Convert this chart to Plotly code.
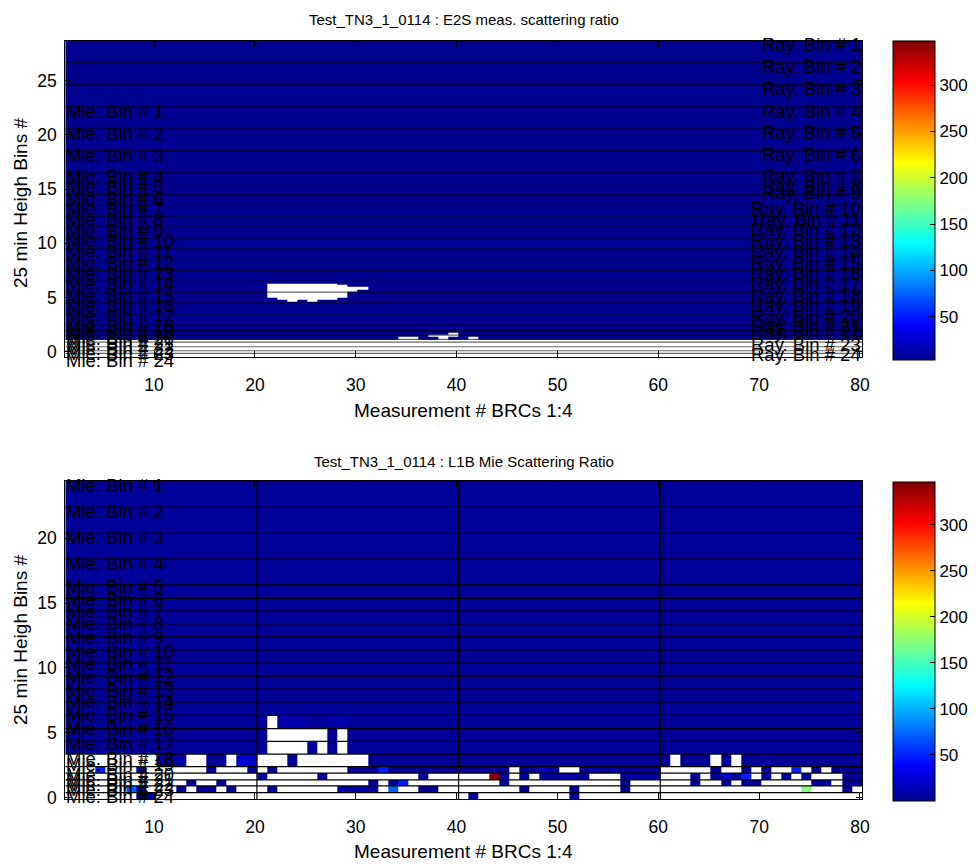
import plotly.graph_objects as go

# ---------------------------------------------------------------- data
title_top = "Test_TN3_1_0114 : E2S meas. scattering ratio"
title_bot = "Test_TN3_1_0114 : L1B Mie Scattering Ratio"
x_title = "Measurement # BRCs 1:4"
y_title = "25 min Heigh Bins #"

measurements = list(range(1, 80))      # 79 measurement columns
cell_offset = 0.2                       # pcolor cell edges sit at m + 0.2

x_ticks = [10, 20, 30, 40, 50, 60, 70, 80]
top_y_ticks = [0, 5, 10, 15, 20, 25]
bot_y_ticks = [0, 5, 10, 15, 20]
cbar_ticks = [50, 100, 150, 200, 250, 300]

top_crange = [3.3, 347.8]
bot_crange = [0.3, 347.0]

# code -> scattering ratio value ('w' = missing / NaN)
code_values = {'.': 3.5, 'b': 9.0, 'B': 22.0, 'c': 50.0, 'L': 72.0,
               'g': 172.0, 'r': 345.0, 'w': None}

BG = "." * 79

# E2S panel: data rows (bottom -> top) and their height edges
top_data_edges = [-0.46, 1.14, 1.40, 1.60, 1.75, 4.62, 4.80, 4.96, 5.50,
                  5.72, 6.03, 6.15, 6.31, 28.7]
top_rows = [
    "wwwwwwwwww wwwwwwwwww wwwwwwwwww wwwwwwwwww wwwwwwwwww wwwwwwwwww wwwwwwwwww wwwwwwwww",
    ".......... .......... .......... ...ww..w.. w......... .......... .......... .........",
    ".......... .......... .......... ......www. .......... .......... .......... .........",
    ".......... .......... .......... ........w. .......... .......... .......... .........",
    BG,
    ".......... .......... ..w.w..... .......... .......... .......... .......... .........",
    ".......... .......... .wwwwww... .......... .......... .......... .......... .........",
    ".......... .......... wwwwwwww.. .......... .......... .......... .......... .........",
    ".......... .......... wwwwwwwww. .......... .......... .......... .......... .........",
    ".......... .......... wwwwwwwwww .......... .......... .......... .......... .........",
    ".......... .......... wwwwwwww.. .......... .......... .......... .......... .........",
    ".......... .......... wwwwwww... .......... .......... .......... .......... .........",
    BG,
]
# bin boundary lines drawn in the E2S panel
top_bin_edges = [26.7, 24.65, 22.6, 20.57, 18.55, 16.5, 15.5, 14.5, 13.5, 12.5,
                 11.5, 10.5, 9.5, 8.5, 7.5, 6.5, 5.5, 4.5, 3.5, 2.46, 1.97,
                 1.54, 1.14, 0.89, 0.46, 0.09, -0.15]
ray_label_y = [28.36, 26.29, 24.3, 22.2, 20.2, 18.2, 16.24, 15.38, 14.7, 13.2,
               12.2, 11.3, 10.24, 9.23, 8.25, 7.23, 6.25, 5.23, 4.22, 3.23,
               2.46, 1.85, 0.62, -0.3]
mie_label_y_top = [22.14, 20.15, 18.15, 16.14, 15.22, 14.15, 13.23, 12.21,
                   11.23, 10.24, 9.23, 8.25, 7.23, 6.25, 5.23, 4.24, 3.32,
                   2.46, 1.85, 1.23, 0.77, 0.31, -0.15, -0.77]

# L1B panel: Mie bins (top -> bottom) and their height edges
bot_bin_edges = [24.41, 22.38, 20.38, 18.40, 16.4, 15.37, 14.39, 13.39, 12.39,
                 11.39, 10.38, 9.38, 8.38, 7.38, 6.35, 5.32, 4.35, 3.36, 2.40,
                 1.89, 1.37, 0.91, 0.39, -0.12]
bot_rows = [BG] * 14 + [
    ".......... .......... wbbb..bb.. .......... .......... .......... .......... .........",
    ".......... .......... wwwwww.w.. .......... .......... .......... .......... .........",
    ".......... .......... wwww.w.w.. .......... .......... .......... .......... .........",
    "wwwwwwwwwb bbww..wBBw ww.wwwwwww .......... .......... .......... w...w.w..b .........",
    "wwwcwww.ww wwww.www.w .wwwwwww.. .c........ ....w..B.w w.b.b....w wwww.ww.w. wwcw.w...",
    "wwwwwwwwww wwwwwwwww. wwwww.wwww wwwww.wwww wwr.w.w..b b.www....w ww.w.B.cw. w.w.www..",
    "wwwwwwwwww ww.ww.wwww wwwwwwwwww .w.cwwwwww www.wwwwww wwwww.wwww ww.ww.w..w wwww..w..",
    "wwwwwwL.ww w.w..w.www .wwwwwwbbb bwLww..www wwwww.wwww .wwww.wwww wwwwwwwwww wwwgwww.w",
    "wwwwwww..w wwwwwwwwww wwwwwwwwww wwwwwwwwww .wwwwwwwww .wwwwwwwww wwwwwwwwww wwwwwwwww",
]
mie_label_y_bot = [24.1, 22.04, 20.07, 18.07, 16.26, 15.24, 14.34, 13.39, 12.36,
                   11.26, 10.36, 9.33, 8.3, 7.4, 6.38, 5.35, 4.2, 3.04, 2.53,
                   1.76, 1.37, 0.99, 0.6, 0.08]
brc_boundaries = [20.2, 40.2, 60.2]

# ---------------------------------------------------------------- helpers
def decode(rows):
    z = []
    for r in rows:
        s = r.replace(" ", "")
        assert len(s) == 79, (len(s), r)
        z.append([code_values[ch] for ch in s])
    return z

x_edges = [m + cell_offset for m in measurements] + [measurements[-1] + 1 + cell_offset]
x_range = [x_edges[0], x_edges[-1]]
top_yrange = [top_data_edges[0], top_data_edges[-1]]
bot_yrange = [bot_bin_edges[-1], bot_bin_edges[0]]

z_top = decode(top_rows)
z_bot = decode(bot_rows)[::-1]
bot_edges_asc = bot_bin_edges[::-1]

jet = [[0.0, "rgb(0,0,143)"], [0.111, "rgb(0,0,255)"], [0.365, "rgb(0,255,255)"],
       [0.619, "rgb(255,255,0)"], [0.873, "rgb(255,0,0)"], [1.0, "rgb(128,0,0)"]]

W, H = 976, 865
def pxx(p): return p / W
def pxy(p): return 1 - p / H

FONT = "Liberation Sans, Arial, Helvetica, sans-serif"
L, R = 65.3, 862.0
T1, B1 = 40.7, 356.7
T2, B2 = 481.0, 799.3

def cbar(top, bot):
    return dict(thicknessmode="pixels", thickness=42, lenmode="pixels", len=bot - top,
                x=pxx(893), xanchor="left", y=pxy((top + bot) / 2), yanchor="middle",
                xpad=0, ypad=0, outlinewidth=1, outlinecolor="black",
                tickvals=cbar_ticks, ticks="inside", ticklen=5, tickcolor="black",
                tickfont=dict(family=FONT, size=17, color="black"))

fig = go.Figure()
fig.add_trace(go.Heatmap(x=x_edges, y=top_data_edges, z=z_top, colorscale=jet,
                         zmin=top_crange[0], zmax=top_crange[1], zsmooth=False,
                         hoverinfo="skip", colorbar=cbar(40.7, 360.0),
                         xaxis="x", yaxis="y"))
fig.add_trace(go.Heatmap(x=x_edges, y=bot_edges_asc, z=z_bot, colorscale=jet,
                         zmin=bot_crange[0], zmax=bot_crange[1], zsmooth=False,
                         hoverinfo="skip", colorbar=cbar(481.7, 800.7),
                         xaxis="x2", yaxis="y2"))

shapes = []
for e in top_bin_edges:
    shapes.append(dict(type="line", xref="x", yref="y", x0=x_range[0], x1=x_range[1],
                       y0=e, y1=e, line=dict(color="rgba(0,0,0,0.6)", width=1.2)))
for e in bot_bin_edges[1:-1]:
    shapes.append(dict(type="line", xref="x2", yref="y2", x0=x_range[0], x1=x_range[1],
                       y0=e, y1=e, line=dict(color="black", width=1.2)))
for b in brc_boundaries:
    shapes.append(dict(type="line", xref="x2", yref="y2", x0=b, x1=b,
                       y0=bot_bin_edges[-1], y1=bot_bin_edges[0],
                       line=dict(color="black", width=1.2)))

def dom(y, rng):
    # height value -> fraction of the axis domain (may fall outside 0..1)
    return (y - rng[0]) / (rng[1] - rng[0])

lab_font = dict(family=FONT, size=18.5, color="black")
ann = []
for i, y in enumerate(ray_label_y):
    ann.append(dict(text=f"Ray. Bin # {i+1}", x=1, y=dom(y, top_yrange),
                    xref="x domain", yref="y domain",
                    xanchor="right", yanchor="middle", showarrow=False, font=lab_font,
                    borderpad=0))
for i, y in enumerate(mie_label_y_top):
    ann.append(dict(text=f"Mie. Bin # {i+1}", x=0, y=dom(y, top_yrange),
                    xref="x domain", yref="y domain",
                    xanchor="left", yanchor="middle", showarrow=False, font=lab_font,
                    borderpad=0))
for i, y in enumerate(mie_label_y_bot):
    ann.append(dict(text=f"Mie. Bin # {i+1}", x=0, y=dom(y, bot_yrange),
                    xref="x2 domain", yref="y2 domain",
                    xanchor="left", yanchor="middle", showarrow=False, font=lab_font,
                    borderpad=0))

tfont = dict(family=FONT, size=15, color="black")
afont = dict(family=FONT, size=19, color="black")
cx = pxx((L + R) / 2)
ann += [
    dict(text=title_top, x=cx, y=pxy(20), xref="paper", yref="paper", showarrow=False,
         xanchor="center", yanchor="middle", font=tfont),
    dict(text=title_bot, x=cx, y=pxy(462), xref="paper", yref="paper", showarrow=False,
         xanchor="center", yanchor="middle", font=tfont),
    dict(text=x_title, x=cx, y=pxy(410), xref="paper", yref="paper", showarrow=False,
         xanchor="center", yanchor="middle", font=afont),
    dict(text=x_title, x=cx, y=pxy(851), xref="paper", yref="paper", showarrow=False,
         xanchor="center", yanchor="middle", font=afont),
    dict(text=y_title, x=pxx(20), y=pxy(203), xref="paper", yref="paper", showarrow=False,
         xanchor="center", yanchor="middle", textangle=-90, font=afont),
    dict(text=y_title, x=pxx(20), y=pxy(640), xref="paper", yref="paper", showarrow=False,
         xanchor="center", yanchor="middle", textangle=-90, font=afont),
]

tick_font = dict(family=FONT, size=17.5, color="black")
ax_common = dict(showline=True, linecolor="black", linewidth=1, mirror="ticks",
                 ticks="inside", ticklen=6, tickcolor="black", showgrid=False,
                 zeroline=False, tickfont=tick_font, automargin=False)

fig.update_layout(
    width=W, height=H, margin=dict(l=0, r=0, t=0, b=0),
    paper_bgcolor="white", plot_bgcolor="white", showlegend=False,
    xaxis=dict(domain=[pxx(L), pxx(R)], anchor="y", range=x_range, tickvals=x_ticks,
               ticklabelstandoff=12, **ax_common),
    yaxis=dict(domain=[pxy(B1), pxy(T1)], anchor="x", range=top_yrange,
               tickvals=top_y_ticks, ticklabelstandoff=4, **ax_common),
    xaxis2=dict(domain=[pxx(L), pxx(R)], anchor="y2", range=x_range, tickvals=x_ticks,
                ticklabelstandoff=12, **ax_common),
    yaxis2=dict(domain=[pxy(B2), pxy(T2)], anchor="x2", range=bot_yrange,
                tickvals=bot_y_ticks, ticklabelstandoff=4, **ax_common),
    shapes=shapes, annotations=ann,
)

fig.write_html("out.html", config={"displayModeBar": False},
               post_script="document.body.style.margin='0px';")
